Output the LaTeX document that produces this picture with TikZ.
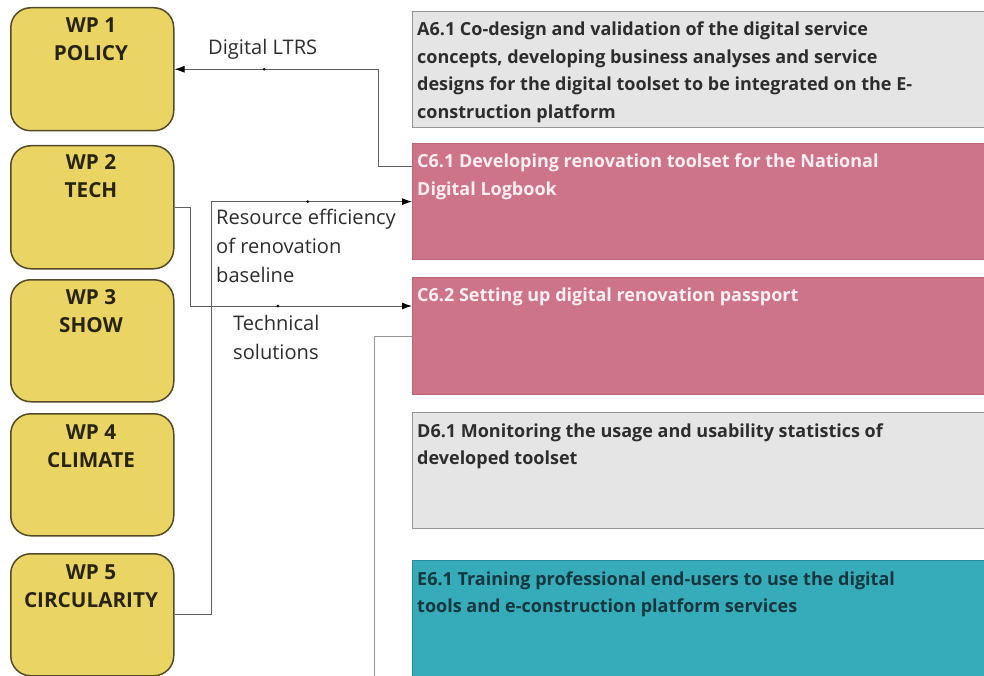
\documentclass[tikz,border=0pt]{standalone}
\usepackage{fontspec}
\setmainfont{Open Sans}
\usetikzlibrary{arrows.meta}
\definecolor{wpfill}{RGB}{233,212,100}
\definecolor{wpdraw}{RGB}{85,75,40}
\definecolor{wptext}{RGB}{40,36,20}
\definecolor{grayfill}{RGB}{229,229,229}
\definecolor{graydraw}{RGB}{150,150,150}
\definecolor{pinkfill}{RGB}{205,116,137}
\definecolor{pinkdraw}{RGB}{190,100,120}
\definecolor{pinktext}{RGB}{252,238,242}
\definecolor{tealfill}{RGB}{54,171,185}
\definecolor{tealdraw}{RGB}{40,140,155}
\definecolor{tealtext}{RGB}{22,55,62}
\definecolor{darktext}{RGB}{45,45,45}
\definecolor{linec}{RGB}{95,95,95}
\definecolor{lightline}{RGB}{150,150,150}
\tikzset{
  wpbox/.style={draw=wpdraw, line width=1.5pt, fill=wpfill, rounded corners=20pt,
    minimum width=163pt, minimum height=123pt, anchor=north west, inner sep=0pt},
  wplabel/.style={anchor=base, inner sep=0pt, text=wptext,
    font=\bfseries\fontsize{20.7}{28}\selectfont},
  taskbox/.style={line width=1.2pt, minimum width=580pt, minimum height=116pt,
    anchor=north west, inner sep=0pt},
  tasklabel/.style={anchor=base west, inner sep=0pt,
    font=\bfseries\fontsize{18}{27.5}\selectfont},
  conn/.style={draw=linec, line width=1pt},
  arr/.style={conn, -{Latex[length=10pt,width=7pt,color=black]}},
  flowlabel/.style={anchor=base west, inner sep=0pt, text=darktext,
    font=\fontsize{20.1}{29}\selectfont},
  mark dot/.style={circle, fill=black, inner sep=0pt, minimum size=3pt}
}
\begin{document}
\begin{tikzpicture}[x=1pt,y=-1pt]
\useasboundingbox (0,0) rectangle (984,676);
\fill[white] (0,0) rectangle (984,676);

% WP boxes
\node[wpbox] (wp1) at (10,7) {};
\node[wpbox] (wp2) at (10,145) {};
\node[wpbox, minimum height=122pt] (wp3) at (10,279) {};
\node[wpbox, minimum height=122pt] (wp4) at (10,413) {};
\node[wpbox, minimum height=122pt] (wp5) at (10,553) {};
\node[wplabel] (wp1t) at (91,33) {\parbox[t]{160pt}{\centering WP 1\\POLICY}};
\node[wplabel] (wp2t) at (91,170) {\parbox[t]{160pt}{\centering WP 2\\TECH}};
\node[wplabel] (wp3t) at (91,304) {\parbox[t]{160pt}{\centering WP 3\\SHOW}};
\node[wplabel] (wp4t) at (91,439) {\parbox[t]{160pt}{\centering WP 4\\CLIMATE}};
\node[wplabel] (wp5t) at (91,579) {\parbox[t]{160pt}{\centering WP 5\\CIRCULARITY}};

% task boxes
\node[taskbox, draw=graydraw, fill=grayfill] (a61) at (412,11) {};
\node[taskbox, draw=pinkdraw, fill=pinkfill] (c61) at (412,143) {};
\node[taskbox, draw=pinkdraw, fill=pinkfill, minimum height=117pt] (c62) at (412,277) {};
\node[taskbox, draw=graydraw, fill=grayfill] (d61) at (412,412) {};
\node[taskbox, draw=tealdraw, fill=tealfill, minimum height=130pt] (e61) at (412,560) {};

\node[tasklabel, text=darktext] (a61t) at (417,36) {\parbox[t]{560pt}{A6.1 Co-design and validation of the digital service\\concepts, developing business analyses and service\\designs for the digital toolset to be integrated on the E-\\construction platform}};
\node[tasklabel, text=pinktext] (c61t) at (417,168) {\parbox[t]{560pt}{C6.1 Developing renovation toolset for the National\\Digital Logbook}};
\node[tasklabel, text=pinktext] (c62t) at (417,301) {\parbox[t]{560pt}{C6.2 Setting up digital renovation passport}};
\node[tasklabel, text=darktext] (d61t) at (417,437) {\parbox[t]{560pt}{D6.1 Monitoring the usage and usability statistics of\\developed toolset}};
\node[tasklabel, text=tealtext] (e61t) at (417,585) {\parbox[t]{560pt}{E6.1 Training professional end-users to use the digital\\tools and e-construction platform services}};

% connectors
\draw[arr] ([yshift=-24pt]c61.north west) -- ++(-34,0) |- (wp1.east)
  node[mark dot, pos=0.78] (d1) {};
\draw[arr] (wp5.east) -- ++(37,0) |- (c61.west)
  node[mark dot, pos=0.74] (d3) {};
\draw[arr] (wp2.east) -- ++(16,0) |- ([yshift=-29pt]c62.north west)
  node[mark dot, pos=0.697] (d2) {};
\coordinate (c62end) at (374,680);
\draw[draw=lightline, line width=1pt] (c62.west) -| (c62end);

% connector labels
\node[flowlabel] (l1) at (208,55) {Digital LTRS};
\node[flowlabel] (l3) at (216,225) {\parbox[t]{200pt}{Resource efficiency\\of renovation\\baseline}};
\node[flowlabel] (l2) at (233,330) {\parbox[t]{200pt}{Technical\\solutions}};
\end{tikzpicture}
\end{document}
